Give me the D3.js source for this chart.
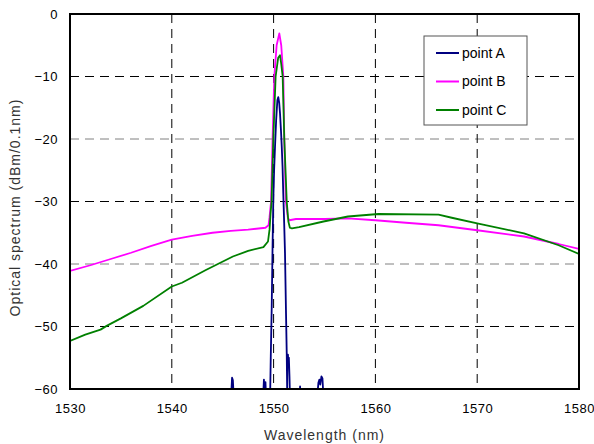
<!DOCTYPE html>
<html>
<head>
<meta charset="utf-8">
<script src="https://cdn.jsdelivr.net/npm/d3@7"></script>
<style>
  body { margin: 0; background: #fff; }
  text { font-family: "Liberation Sans", Arial, sans-serif; }
</style>
</head>
<body>
<div id="chart"></div>
<script>
// axis ticks
var xTicks = [1530, 1540, 1550, 1560, 1570, 1580];
var yTicks = [0, -10, -20, -30, -40, -50, -60];

// series: [wavelength nm, dBm/0.1nm]
var pointA = [
  [1530, -62], [1545.8, -62], [1545.92, -58.2], [1546.0, -58.6], [1546.1, -62],
  [1548.95, -62], [1549.05, -58.5], [1549.12, -62], [1549.2, -58.9], [1549.28, -62],
  [1549.65, -62], [1549.72, -55], [1549.81, -47.4], [1549.9, -37], [1549.97, -29.8],
  [1550.05, -25], [1550.14, -21.2], [1550.25, -17], [1550.37, -13.8], [1550.46, -13.3],
  [1550.55, -14.2], [1550.63, -15.9], [1550.72, -18.5], [1550.8, -21.2], [1550.88, -24.5],
  [1550.95, -28.7], [1551.04, -33.5], [1551.12, -38.3], [1551.22, -47.9], [1551.29, -54.3],
  [1551.33, -60], [1551.36, -56], [1551.41, -54.5], [1551.46, -56.5], [1551.5, -55],
  [1551.56, -58], [1551.62, -62], [1552.55, -62], [1552.6, -59.6], [1552.65, -62],
  [1554.25, -62], [1554.4, -59], [1554.5, -58.5], [1554.58, -59.3], [1554.7, -58],
  [1554.8, -58.3], [1554.92, -62], [1580, -62]
];

var pointB = [
  [1530, -41.1], [1532, -40.2], [1534, -39.2], [1536, -38.2], [1538, -37.1],
  [1540, -36.1], [1542, -35.5], [1544, -35.0], [1545.8, -34.7], [1547.5, -34.5],
  [1549.2, -34.2], [1549.5, -33.8], [1549.6, -32.5], [1549.75, -30], [1549.9, -20],
  [1550.07, -10], [1550.3, -5], [1550.56, -3.1], [1550.75, -5], [1550.96, -10],
  [1551.05, -20], [1551.2, -30], [1551.4, -32.6], [1551.55, -33], [1552.2, -32.8],
  [1555, -32.8], [1557.3, -32.7], [1560, -33], [1563, -33.4], [1566.2, -33.8],
  [1570, -34.6], [1574.6, -35.6], [1578, -36.8], [1580, -37.6]
];

var pointC = [
  [1530, -52.3], [1531.5, -51.3], [1533, -50.5], [1533.6, -49.9], [1535, -48.7],
  [1537.2, -46.7], [1540, -43.6], [1541, -43.0], [1543.3, -41], [1546, -38.8],
  [1547.5, -37.9], [1549, -37.3], [1549.45, -36.4], [1549.6, -34.5], [1549.7, -32],
  [1549.8, -30], [1549.97, -20], [1550.2, -10], [1550.45, -7], [1550.63, -6.6],
  [1550.75, -8], [1550.89, -10], [1551.05, -20], [1551.29, -30], [1551.45, -33.2],
  [1551.6, -34.2], [1551.8, -34.3], [1552.5, -34.1], [1554.9, -33.2], [1557.3, -32.4],
  [1560.3, -32.0], [1566.2, -32.1], [1567.5, -32.6], [1570, -33.5], [1574.6, -35.1],
  [1578, -37.0], [1580, -38.4]
];

var seriesNames = ["point A", "point B", "point C"];
var seriesColors = ["#000080", "#ff00ff", "#008000"];
var seriesData = [pointA, pointB, pointC];

// set the dimensions and margins of the graph
var margin = {top: 14, right: 15, bottom: 55, left: 70},
    width = 594 - margin.left - margin.right,
    height = 444 - margin.top - margin.bottom;

var svg = d3.select("#chart")
  .append("svg")
    .attr("width", 594)
    .attr("height", 444)
  .append("g")
    .attr("transform", "translate(" + margin.left + "," + margin.top + ")");

var x = d3.scaleLinear().domain([1530, 1580]).range([0, width]);
var y = d3.scaleLinear().domain([-60, 0]).range([height, 0]);

// grid lines (the -20 and -40 lines are grey in the original)
svg.append("g")
  .selectAll("line")
  .data(yTicks.filter(function(d) { return d != 0 && d != -60; }))
  .enter().append("line")
    .attr("x1", 0).attr("x2", width)
    .attr("y1", function(d) { return y(d); })
    .attr("y2", function(d) { return y(d); })
    .style("stroke", function(d) { return (d == -20 || d == -40) ? "#808080" : "#000"; })
    .style("stroke-width", 1)
    .style("stroke-dasharray", "9,6");

svg.append("g")
  .selectAll("line")
  .data(xTicks.filter(function(d) { return d != 1530 && d != 1580; }))
  .enter().append("line")
    .attr("y1", 0).attr("y2", height)
    .attr("x1", function(d) { return x(d); })
    .attr("x2", function(d) { return x(d); })
    .style("stroke", "#000")
    .style("stroke-width", 1)
    .style("stroke-dasharray", "9,6");

// axes, labels only
var xAxis = svg.append("g")
  .attr("transform", "translate(0," + height + ")")
  .call(d3.axisBottom(x).tickValues(xTicks).tickSize(0).tickPadding(15).tickFormat(d3.format("d")));
var yAxis = svg.append("g")
  .call(d3.axisLeft(y).tickValues(yTicks).tickSize(0).tickPadding(12).tickFormat(d3.format("d")));

[xAxis, yAxis].forEach(function(a) {
  a.select(".domain").remove();
  a.selectAll("text")
    .style("font-size", "13px")
    .style("letter-spacing", "0.5px")
    .style("font-family", "'Liberation Sans', Arial, sans-serif")
    .attr("fill", "#000");
});

// clip so the floor of point A stays under the axis
svg.append("defs").append("clipPath")
  .attr("id", "clip")
  .append("rect")
    .attr("width", width)
    .attr("height", height);

var line = d3.line()
  .x(function(d) { return x(d[0]); })
  .y(function(d) { return y(d[1]); });

var graph = svg.append("g").attr("clip-path", "url(#clip)");

graph.selectAll("path")
  .data(seriesData)
  .enter().append("path")
    .attr("d", line)
    .style("fill", "none")
    .style("stroke", function(d, i) { return seriesColors[i]; })
    .style("stroke-width", 1.8)
    .style("stroke-linejoin", "round");

// plot frame
svg.append("rect")
  .attr("width", width)
  .attr("height", height)
  .style("fill", "none")
  .style("stroke", "#000")
  .style("stroke-width", 2);

// axis titles
svg.append("text")
  .attr("x", width / 2)
  .attr("y", height + 51)
  .attr("text-anchor", "middle")
  .style("font-size", "14px")
  .style("letter-spacing", "1px")
  .attr("fill", "#333")
  .text("Wavelength (nm)");

svg.append("text")
  .attr("transform", "translate(" + (-50) + "," + (height / 2 + 6) + ") rotate(-90)")
  .attr("text-anchor", "middle")
  .style("font-size", "14px")
  .style("letter-spacing", "1px")
  .attr("fill", "#333")
  .text("Optical spectrum (dBm/0.1nm)");

// legend
var legend = svg.append("g")
  .attr("transform", "translate(" + (424 - margin.left) + "," + (36 - margin.top) + ")");

legend.append("rect")
  .attr("width", 103)
  .attr("height", 89)
  .style("fill", "#fff")
  .style("stroke", "#555")
  .style("stroke-width", 1);

var items = legend.selectAll(".item")
  .data(seriesNames)
  .enter().append("g")
    .attr("class", "item")
    .attr("transform", function(d, i) { return "translate(0," + (17 + i * 28.5) + ")"; });

items.append("line")
  .attr("x1", 12).attr("x2", 35)
  .style("stroke", function(d, i) { return seriesColors[i]; })
  .style("stroke-width", 2);

items.append("text")
  .attr("x", 38)
  .attr("dy", "0.35em")
  .style("font-size", "14px")
  .attr("fill", "#000")
  .text(function(d) { return d; });
</script>
</body>
</html>
